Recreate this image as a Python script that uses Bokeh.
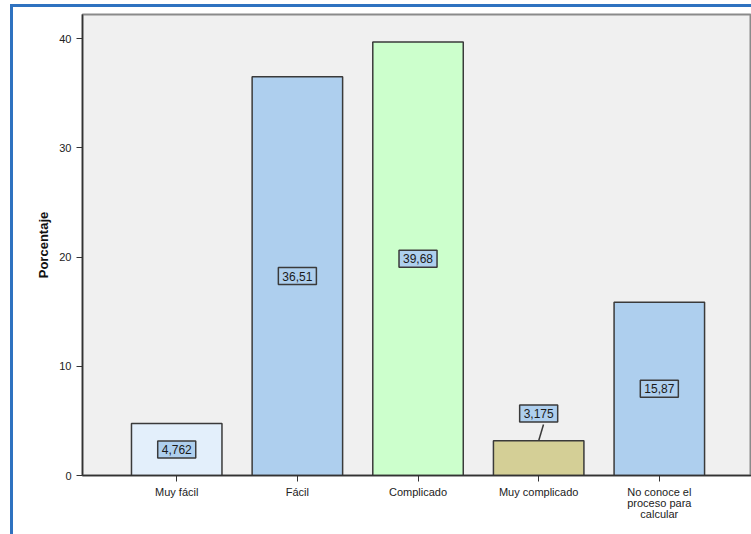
from bokeh.plotting import figure
from bokeh.layouts import column
from bokeh.models import Range1d, FixedTicker, Label, ColumnDataSource
from bokeh.embed import file_html
from bokeh.resources import INLINE

categories = ["Muy fácil", "Fácil", "Complicado", "Muy complicado", "No conoce el\nproceso para\ncalcular"]
values = [4.762, 36.51, 39.68, 3.175, 15.87]
value_labels = ["4,762", "36,51", "39,68", "3,175", "15,87"]
bar_colors = ["#e3effb", "#aecfee", "#ccffcc", "#d4cf96", "#aecfee"]
y_ticks = [0, 10, 20, 30, 40]

FONT = "Liberation Sans"
OX, OY = 13, 7  # blue border offset

xs = list(range(len(categories)))
p = figure(width=751 - OX, height=534 - OY, output_backend="svg", toolbar_location=None,
           x_range=Range1d(-0.781, 4.764), y_range=Range1d(0, 42.2),
           min_border_left=82 - OX, min_border_right=0, min_border_top=14 - OY, min_border_bottom=59)
p.background_fill_color = "#f0f0f0"
p.border_fill_color = "white"
p.outline_line_color = "#8a8a8a"
p.outline_line_width = 2
p.grid.visible = False

src = ColumnDataSource(dict(x=xs, top=values, color=bar_colors))
p.vbar(x="x", top="top", width=0.75, bottom=0, fill_color="color", line_color="#3a3a3a",
       line_width=1.5, source=src)

# value labels
for i, v in enumerate(values):
    if v < 4:
        ly = v + 2.5
        p.segment(x0=[xs[i]], y0=[v], x1=[xs[i] + 0.04], y1=[v + 1.5], line_color="#3a3a3a", line_width=1.5)
    else:
        ly = v / 2
    p.add_layout(Label(x=xs[i], y=ly, text=value_labels[i], text_align="center", text_baseline="middle",
                       text_font=FONT, text_font_size="12px", text_color="#1a1a1a",
                       background_fill_color="#aecfee", border_line_color="#3a3a3a", border_line_width=1.5,
                       padding=4))

# axes
p.yaxis.ticker = FixedTicker(ticks=y_ticks)
p.yaxis.axis_label = "Porcentaje"
p.yaxis.axis_label_text_font = FONT
p.yaxis.axis_label_text_font_size = "13px"
p.yaxis.axis_label_text_font_style = "bold"
p.yaxis.axis_label_text_color = "#111111"
p.yaxis.major_label_text_font = FONT
p.yaxis.major_label_text_font_size = "11px"
p.yaxis.major_label_text_color = "#222222"
p.yaxis.minor_tick_line_color = None
p.yaxis.major_tick_out = 6
p.yaxis.major_tick_in = 0
p.yaxis.axis_line_color = "#333333"
p.yaxis.axis_line_width = 1.5
p.yaxis.major_tick_line_color = "#333333"

p.xaxis.ticker = FixedTicker(ticks=xs)
p.xaxis.major_label_overrides = {i: c for i, c in enumerate(categories)}
p.xaxis.major_label_text_font = FONT
p.xaxis.major_label_text_font_size = "11px"
p.xaxis.major_label_text_color = "#222222"
p.xaxis.major_label_text_line_height = 0.95
p.xaxis.major_label_standoff = 4
p.xaxis.minor_tick_line_color = None
p.xaxis.major_tick_out = 6
p.xaxis.major_tick_in = 0
p.xaxis.axis_line_color = "#333333"
p.xaxis.axis_line_width = 1.5
p.xaxis.major_tick_line_color = "#333333"

layout = column(p, styles={"border-left": "3px solid #2f72c0", "border-top": "3px solid #2f72c0",
                           "margin-left": "10px", "margin-top": "4px", "background": "white"})

open("out.html", "w").write(file_html(layout, INLINE))
